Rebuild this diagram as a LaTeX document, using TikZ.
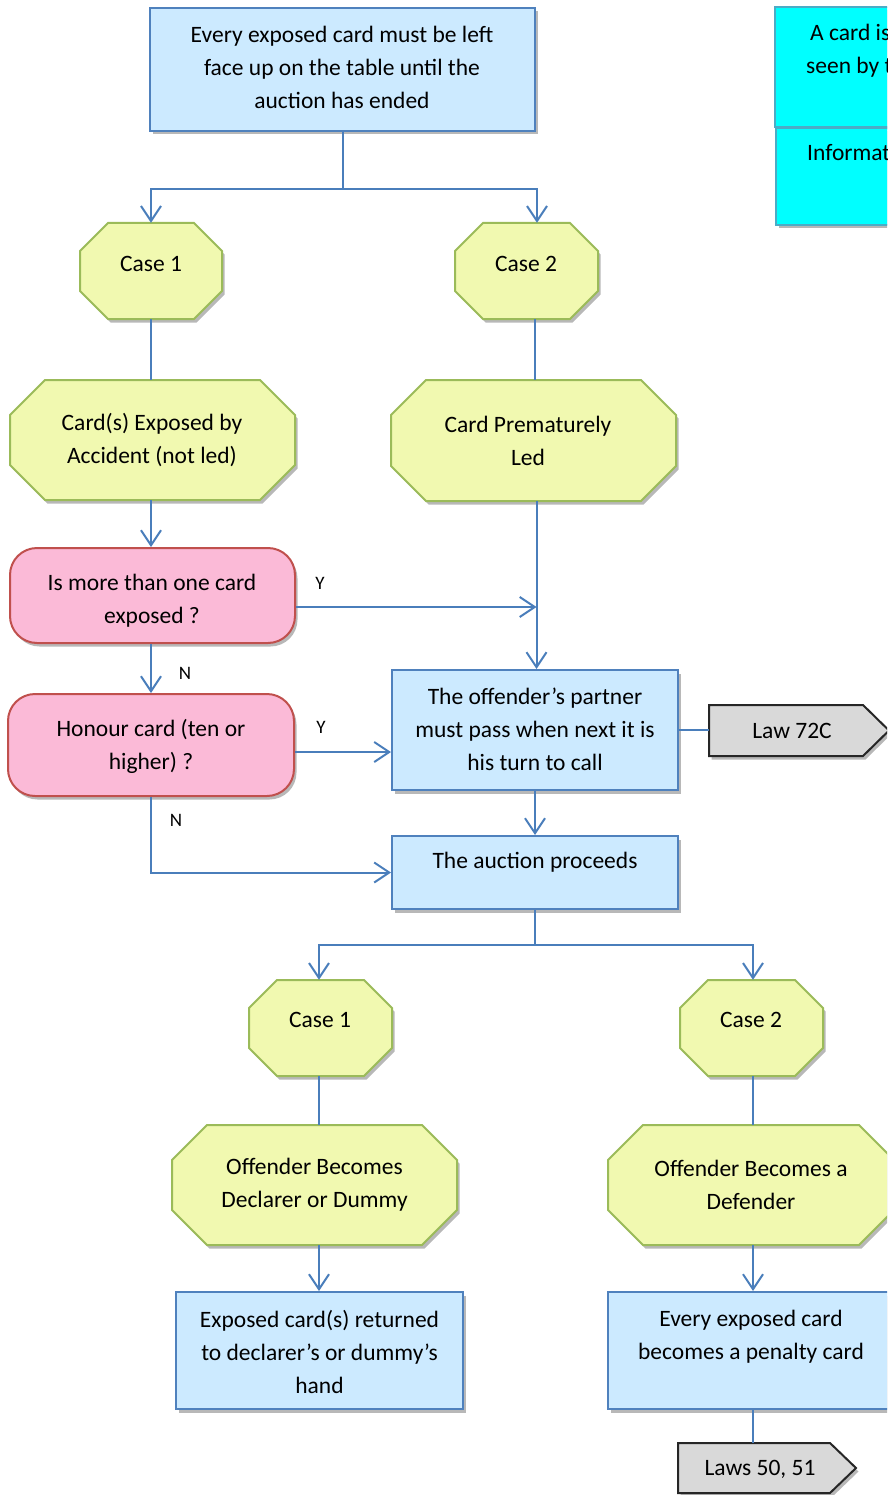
\documentclass[tikz,border=0pt]{standalone}
\usepackage{fontspec}
\setmainfont{Carlito}
\usetikzlibrary{arrows.meta,shadows,fit}
\definecolor{boxblue}{RGB}{204,234,255}
\definecolor{boxline}{RGB}{79,129,189}
\definecolor{octfill}{RGB}{241,249,176}
\definecolor{octline}{RGB}{155,187,89}
\definecolor{pinkfill}{RGB}{251,186,215}
\definecolor{pinkline}{RGB}{192,80,77}
\definecolor{cyanfill}{RGB}{0,255,255}
\definecolor{cyanline}{RGB}{75,172,198}
\definecolor{grayfill}{RGB}{217,217,217}
\definecolor{connc}{RGB}{74,126,187}
\newcommand{\myoct}[6]{%
  \path[octshape] ({#2+#6},#3) -- ({#4-#6},#3) -- (#4,{#3+#6}) -- (#4,{#5-#6}) -- ({#4-#6},#5) -- ({#2+#6},#5) -- (#2,{#5-#6}) -- (#2,{#3+#6}) -- cycle;
  \node[inv, fit={(#2,#3) (#4,#5)}] (#1) {};}
\begin{document}
\begin{tikzpicture}[x=1pt,y=-1pt,
  font=\fontsize{23.5}{33}\selectfont,
  conn/.style={draw=connc, line width=2pt},
  arr/.style={conn, -{Straight Barb[length=15pt,width=20pt,line width=2pt]}},
  shad/.style={drop shadow={shadow xshift=2.5pt,shadow yshift=-3.5pt,opacity=0.28,fill=black}},
  inv/.style={rectangle, inner sep=0pt, draw=none},
  bluebox/.style={rectangle, inner sep=0pt, draw=boxline, fill=boxblue, line width=2pt, align=center, shad},
  cyanbox/.style={rectangle, inner sep=0pt, draw=cyanline, fill=cyanfill, line width=2.5pt, shad},
  pinkbox/.style={rectangle, rounded corners=27pt, inner sep=0pt, draw=pinkline, fill=pinkfill, line width=2pt, shad},
  octshape/.style={draw=octline, fill=octfill, line width=2pt, shad},
  pent/.style={draw=black!85, fill=grayfill, line width=2pt, shad},
  txt/.style={align=center, inner sep=0pt},
  yn/.style={font=\fontsize{19}{22}\selectfont, inner sep=0pt}
]
\clip (0,0) rectangle (887,1495);

% top box
\node[bluebox, fit={(150,8) (535,131)}] (top) {};
\node[txt] at (342,67.5) {Every exposed card must be left\\face up on the table until the\\auction has ended};

% cyan boxes (cut by the right edge, as in the reference)
\node[cyanbox, fit={(775,7) (1010,127)}] (defn) {};
\node[cyanbox, fit={(776,128) (1010,225)}] (info) {};
\node[inner sep=0pt, anchor=west] at (810,34) {A card is exposed if it};
\node[inner sep=0pt, anchor=west] at (806,67) {seen by the partner};
\node[inner sep=0pt, anchor=west] at (807,152) {Information};

% octagons, upper part
\myoct{c1t}{80}{223}{222}{319}{28}
\node[txt] at (151,264) {Case 1};
\myoct{c2t}{455}{223}{598}{319}{28}
\node[txt] at (526,264) {Case 2};
\myoct{exp}{10}{380}{295}{500}{35}
\node[txt] at (152,440.5) {Card(s) Exposed by\\Accident (not led)};
\myoct{premat}{391}{380}{676}{501}{35}
\node[txt] at (528,441) {Card Prematurely\\Led};

% questions
\node[pinkbox, fit={(10,548) (295,643)}] (q1) {};
\node[txt] at (152,600.5) {Is more than one card\\exposed ?};
\node[pinkbox, fit={(8,694) (294,796)}] (q2) {};
\node[txt] at (151,746.5) {Honour card (ten or\\higher) ?};

% partner box and law
\node[bluebox, fit={(392,670) (678,790)}] (partner) {};
\node[txt] at (535,729.5) {The offender's partner\\must pass when next it is\\his turn to call};
\path[pent] (709,705) -- (863,705) -- (889,730.5) -- (863,756) -- (709,756) -- cycle;
\node[inv, fit={(709,705) (889,756)}] (law72) {};
\node[txt] at (792,731) {Law 72C};

% auction proceeds
\node[bluebox, fit={(392,836) (678,909)}] (auction) {};
\node[txt] at (535,862) {The auction proceeds};

% lower octagons
\myoct{c1b}{249}{980}{392}{1076}{28}
\node[txt] at (320,1020) {Case 1};
\myoct{c2b}{680}{980}{823}{1076}{28}
\node[txt] at (751,1020) {Case 2};
\myoct{decl}{172}{1125}{457}{1245}{35}
\node[txt] at (314.5,1185) {Offender Becomes\\Declarer or Dummy};
\myoct{def}{608}{1125}{894}{1245}{35}
\node[txt] at (751,1185) {Offender Becomes a\\Defender};

% lower boxes
\node[bluebox, fit={(176,1292) (463,1409)}] (ret) {};
\node[txt] at (319.5,1352) {Exposed card(s) returned\\to declarer's or dummy's\\hand};
\node[bluebox, fit={(608,1292) (895,1409)}] (every) {};
\node[txt] at (751,1336.5) {Every exposed card\\becomes a penalty card};
\path[pent] (678,1443) -- (830,1443) -- (856,1468) -- (830,1493) -- (678,1493) -- cycle;
\node[inv, fit={(678,1443) (856,1493)}] (laws) {};
\node[txt] at (760,1469) {Laws 50, 51};

% connectors
\coordinate (colA) at (151,0);
\coordinate (colB) at (536.5,0);
\draw[arr] (top.south) -- ++(0,57) -| (c1t.north);
\draw[arr] (top.south) -- ++(0,57) -| ([xshift=10.5pt]c2t.north);
\draw[conn] (c1t.south) -- (c1t.south |- exp.north);
\draw[conn] ([xshift=8.5pt]c2t.south) -- ([xshift=8.5pt]c2t.south |- premat.north);
\draw[arr] (colA |- exp.south) -- (colA |- q1.north);
\draw[arr] (colB |- premat.south) -- (colB |- partner.north);
\draw[arr] ([yshift=-11.5pt]q1.east) -- ([yshift=-11.5pt]q1.east -| colB);
\node[yn] at (320,583) {Y};
\draw[arr] (colA |- q1.south) -- (colA |- q2.north);
\node[yn] at (185,673) {N};
\draw[arr] ([yshift=-7pt]q2.east) -- ([yshift=-7pt]q2.east -| partner.west);
\node[yn] at (321,727) {Y};
\draw[arr] (colA |- q2.south) |- (auction.west);
\node[yn] at (176,820) {N};
\draw[arr] (partner.south) -- (partner.south |- auction.north);
\draw[conn] (partner.east) -- (partner.east -| law72.west);
\draw[arr] (auction.south) -- ++(0,35) -| ([xshift=-1.5pt]c1b.north);
\draw[arr] (auction.south) -- ++(0,35) -| ([xshift=1.5pt]c2b.north);
\draw[conn] ([xshift=-1.5pt]c1b.south) -- ([xshift=-1.5pt]c1b.south |- decl.north);
\draw[conn] ([xshift=1.5pt]c2b.south) -- ([xshift=1.5pt]c2b.south |- def.north);
\draw[arr] ([xshift=-1.5pt]c1b.south |- decl.south) -- ([xshift=-1.5pt]c1b.south |- ret.north);
\draw[arr] ([xshift=1.5pt]c2b.south |- def.south) -- ([xshift=1.5pt]c2b.south |- every.north);
\draw[conn] ([xshift=1.5pt]every.south) -- ([xshift=1.5pt]every.south |- laws.north);
\end{tikzpicture}
\end{document}
